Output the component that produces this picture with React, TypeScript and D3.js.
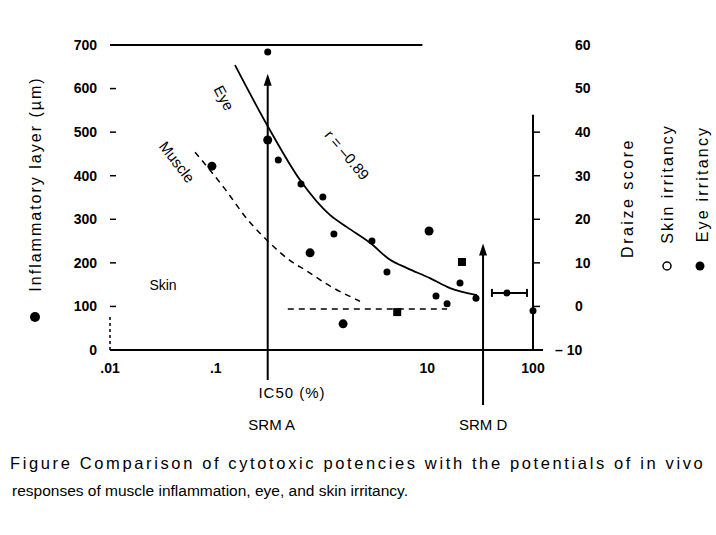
import React, { useRef, useEffect } from 'react';
import * as d3 from 'd3';

// x axis (IC50, log scale)
const xTickValues = [0.01, 0.1, 10, 100];
const xTickLabels = ['.01', '.1', '10', '100'];
// left axis (inflammatory layer, µm)
const leftTicks = [0, 100, 200, 300, 400, 500, 600, 700];
// right axis (Draize score)
const rightTicks = [-10, 0, 10, 20, 30, 40, 50, 60];

// muscle inflammation points: IC50 vs layer thickness
const muscleIC50 = [0.092, 0.31, 0.78, 1.6, 10.4];
const muscleLayer = [422, 482, 223, 60, 273];

// eye irritancy points: IC50 vs Draize score
const eyeIC50 = [0.31, 0.39, 0.64, 1.03, 1.31, 3.0, 4.16, 12.1, 15.4, 20.4, 28.9, 56.7, 100];
const eyeScore = [58.4, 33.6, 28.1, 25.1, 16.6, 15.0, 7.9, 2.4, 0.6, 5.4, 1.9, 3.1, -1.0];

// skin irritancy points
const skinIC50 = [5.2, 21.3];
const skinScore = [-1.3, 10.2];

// fitted curves
const eyeCurveIC50 = [0.152, 0.318, 0.627, 1.2, 1.74, 2.88, 4.45, 6.44, 10.6, 16.4, 29.5];
const eyeCurveScore = [55.4, 40.9, 29.0, 21.0, 18.2, 14.6, 10.7, 8.8, 6.5, 4.2, 2.6];
const muscleCurveIC50 = [0.0637, 0.12, 0.202, 0.305, 0.526, 0.698, 1.2, 2.31];
const muscleCurveLayer = [454, 372, 298, 252, 202, 184, 147, 112];
const skinLineIC50 = [0.48, 15.4];
const skinLineScore = [-0.6, -0.6];

// error bar on one eye point
const errIC50 = [40.9, 87.7];
const errScore = 3.1;

// reference materials
const srmA = 0.31;
const srmD = 33.7;

const W = 716;
const H = 535;
const font = "'Liberation Sans', Arial, sans-serif";

const Chart = () => {
  const ref = useRef<SVGSVGElement>(null);

  useEffect(() => {
    const svg = d3.select(ref.current);
    svg.selectAll('*').remove();

    const x = d3.scaleLog().domain([0.01, 100]).range([110, 533]);
    const yL = d3.scaleLinear().domain([0, 700]).range([350, 45]);
    const yR = d3.scaleLinear().domain([-10, 60]).range([350, 45]);

    const g = svg.append('g').attr('font-family', font).attr('fill', '#000');

    // frame lines
    g.append('line')
      .attr('x1', x(0.01)).attr('x2', x(9))
      .attr('y1', yL(700)).attr('y2', yL(700))
      .attr('stroke', '#000').attr('stroke-width', 2);
    g.append('line')
      .attr('x1', x(0.01)).attr('x2', x(100) + 10)
      .attr('y1', yL(0)).attr('y2', yL(0))
      .attr('stroke', '#000').attr('stroke-width', 2);
    g.append('line')
      .attr('x1', x(0.01)).attr('x2', x(0.01))
      .attr('y1', yL(0)).attr('y2', yL(80))
      .attr('stroke', '#000').attr('stroke-width', 1.5)
      .attr('stroke-dasharray', '3,3');

    // left ticks + labels
    leftTicks.forEach((t) => {
      if (t > 0 && t < 700) {
        g.append('line')
          .attr('x1', x(0.01)).attr('x2', x(0.01) + 6)
          .attr('y1', yL(t)).attr('y2', yL(t))
          .attr('stroke', '#000').attr('stroke-width', 1.5);
      }
      g.append('text')
        .attr('x', 97).attr('y', yL(t))
        .attr('dy', '0.35em')
        .attr('text-anchor', 'end')
        .attr('font-size', 14)
        .attr('font-weight', 'bold')
        .text(t);
    });

    // right axis
    g.append('line')
      .attr('x1', x(100)).attr('x2', x(100))
      .attr('y1', yR(44)).attr('y2', yR(-10))
      .attr('stroke', '#000').attr('stroke-width', 2);
    rightTicks.forEach((t) => {
      if (t > -10 && t < 44) {
        g.append('line')
          .attr('x1', x(100)).attr('x2', x(100) + 7)
          .attr('y1', yR(t)).attr('y2', yR(t))
          .attr('stroke', '#000').attr('stroke-width', 1.5);
      }
      g.append('text')
        .attr('x', t < 0 ? 555 : 575).attr('y', yR(t))
        .attr('dy', '0.35em')
        .attr('text-anchor', 'start')
        .attr('font-size', 14)
        .attr('font-weight', 'bold')
        .text(t < 0 ? `– ${Math.abs(t)}` : `${t}`);
    });

    // x tick labels
    xTickValues.forEach((v, i) => {
      g.append('text')
        .attr('x', x(v)).attr('y', 368)
        .attr('dy', '0.35em')
        .attr('text-anchor', 'middle')
        .attr('font-size', 14)
        .attr('font-weight', 'bold')
        .text(xTickLabels[i]);
    });

    g.append('text')
      .attr('x', 292).attr('y', 393).attr('dy', '0.35em')
      .attr('text-anchor', 'middle').attr('font-size', 15)
      .attr('letter-spacing', 1)
      .text('IC50 (%)');

    // SRM arrows
    const arrow = (v: number, top: number, bottom: number) => {
      g.append('line')
        .attr('x1', x(v)).attr('x2', x(v))
        .attr('y1', bottom).attr('y2', top + 4)
        .attr('stroke', '#000').attr('stroke-width', 2);
      g.append('path')
        .attr('d', `M${x(v)},${top - 4} L${x(v) - 4},${top + 8} L${x(v) + 4},${top + 8} Z`)
        .attr('fill', '#000');
    };
    arrow(srmA, yR(52.5), 380);
    arrow(srmD, yR(13.5), 405);
    g.append('text').attr('x', x(srmA) + 4).attr('y', 425).attr('dy', '0.35em')
      .attr('text-anchor', 'middle').attr('font-size', 15).text('SRM A');
    g.append('text').attr('x', x(srmD)).attr('y', 425).attr('dy', '0.35em')
      .attr('text-anchor', 'middle').attr('font-size', 15).text('SRM D');

    // curves
    const eyeLine = d3.line<number>()
      .x((_, i) => x(eyeCurveIC50[i]))
      .y((d) => yR(d))
      .curve(d3.curveMonotoneX);
    g.append('path')
      .attr('d', eyeLine(eyeCurveScore))
      .attr('fill', 'none').attr('stroke', '#000').attr('stroke-width', 1.8);

    const muscleLine = d3.line<number>()
      .x((_, i) => x(muscleCurveIC50[i]))
      .y((d) => yL(d))
      .curve(d3.curveMonotoneX);
    g.append('path')
      .attr('d', muscleLine(muscleCurveLayer))
      .attr('fill', 'none').attr('stroke', '#000').attr('stroke-width', 1.5)
      .attr('stroke-dasharray', '6,5');

    const skinLine = d3.line<number>()
      .x((_, i) => x(skinLineIC50[i]))
      .y((d) => yR(d));
    g.append('path')
      .attr('d', skinLine(skinLineScore))
      .attr('fill', 'none').attr('stroke', '#000').attr('stroke-width', 1.5)
      .attr('stroke-dasharray', '6,5');

    // error bar
    g.append('line')
      .attr('x1', x(errIC50[0])).attr('x2', x(errIC50[1]))
      .attr('y1', yR(errScore)).attr('y2', yR(errScore))
      .attr('stroke', '#000').attr('stroke-width', 2);
    errIC50.forEach((v) => {
      g.append('line')
        .attr('x1', x(v)).attr('x2', x(v))
        .attr('y1', yR(errScore) - 4).attr('y2', yR(errScore) + 4)
        .attr('stroke', '#000').attr('stroke-width', 2);
    });

    // points
    g.append('g').selectAll('circle')
      .data(muscleIC50)
      .join('circle')
      .attr('cx', (d) => x(d))
      .attr('cy', (_, i) => yL(muscleLayer[i]))
      .attr('r', 4.5);

    g.append('g').selectAll('circle')
      .data(eyeIC50)
      .join('circle')
      .attr('cx', (d) => x(d))
      .attr('cy', (_, i) => yR(eyeScore[i]))
      .attr('r', 3.5);

    g.append('g').selectAll('rect')
      .data(skinIC50)
      .join('rect')
      .attr('x', (d) => x(d) - 4)
      .attr('y', (_, i) => yR(skinScore[i]) - 4)
      .attr('width', 8).attr('height', 8);

    // annotations
    const rotText = (tx: number, ty: number, a: number, s: string, size = 14, ls = 0) =>
      g.append('text')
        .attr('transform', `translate(${tx},${ty}) rotate(${a})`)
        .attr('text-anchor', 'middle').attr('dy', '0.35em')
        .attr('font-size', size)
        .attr('letter-spacing', ls)
        .text(s);
    rotText(224, 98, 62, 'Eye', 15);
    rotText(177, 162, 52, 'Muscle', 15);
    rotText(347, 155, 50, 'r = –0.89', 15);
    rotText(163, 285, 0, 'Skin', 14);

    // left axis title
    rotText(35, 184, -90, 'Inflammatory layer (µm)', 16, 2);
    g.append('circle').attr('cx', 35).attr('cy', 317).attr('r', 5);

    // right titles
    rotText(627, 198, -90, 'Draize score', 16, 2.5);
    rotText(667, 184, -90, 'Skin irritancy', 16, 2);
    g.append('circle').attr('cx', 667).attr('cy', 266).attr('r', 4)
      .attr('fill', 'none').attr('stroke', '#000').attr('stroke-width', 1.5);
    rotText(702, 184, -90, 'Eye irritancy', 16, 2.2);
    g.append('circle').attr('cx', 700).attr('cy', 266).attr('r', 4.5);

    // caption: first line spread to the full width
    const cap1 = g.append('text')
      .attr('x', 10).attr('y', 469)
      .attr('font-size', 16.5)
      .text('Figure  Comparison of cytotoxic potencies with the potentials of in vivo');
    const node = cap1.node() as SVGTextElement;
    const len = node.getComputedTextLength();
    const nChars = cap1.text().length;
    cap1.attr('letter-spacing', Math.max(0, (698 - len) / nChars));
    g.append('text')
      .attr('x', 12).attr('y', 496)
      .attr('font-size', 15.5)
      .text('responses of muscle inflammation, eye, and skin irritancy.');
  }, []);

  return (
    <svg
      ref={ref}
      width={W}
      height={H}
      style={{ position: 'absolute', left: 0, top: 0, background: '#fff' }}
    />
  );
};

export default function App() {
  return <Chart />;
}
